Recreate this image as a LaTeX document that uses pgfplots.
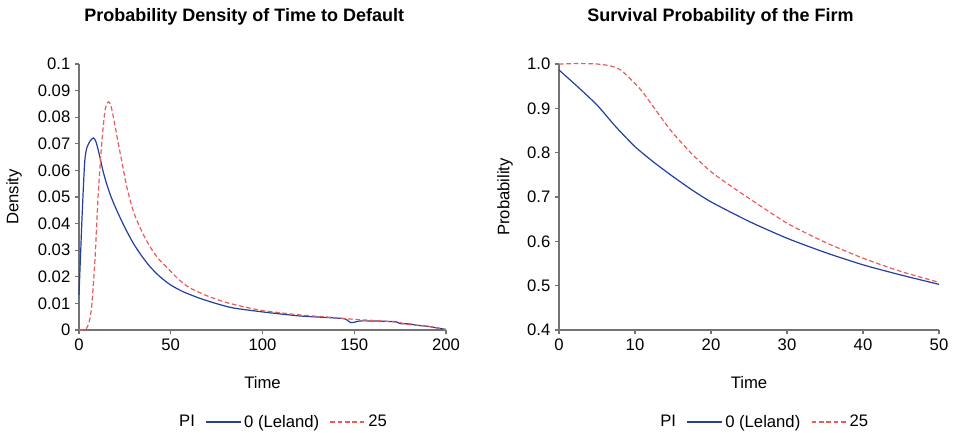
\documentclass[border=0pt]{standalone}
\usepackage{pgfplots}
\pgfplotsset{compat=1.18}
\usepackage{fontspec}
\setmainfont{Liberation Sans}

\definecolor{lelandblue}{RGB}{36,62,160}
\definecolor{pired}{RGB}{232,92,92}

\pgfplotsset{
  excelstyle/.style={
    scale only axis,
    height=199.5pt,
    axis x line=bottom, axis y line=left,
    axis line style={-, draw=gray!90!black, line width=0.8pt},
    tick align=outside, major tick length=3pt,
    tick style={draw=gray!90!black, line width=0.8pt},
    tick label style={font=\fontsize{12.5}{14}\selectfont},
    label style={font=\fontsize{12.5}{14}\selectfont},
    /pgf/number format/assume math mode=true,
    title style={font=\fontsize{13.5}{16}\selectfont\bfseries, anchor=center},
    legend columns=-1,
    legend style={draw=none, fill=none, anchor=center,
      font=\fontsize{12.5}{14}\selectfont,
      /tikz/every even column/.append style={column sep=6pt}},
    legend image code/.code={\draw[#1, line width=0.9pt] (0pt,0pt) -- (26pt,0pt);},
    clip=false,
  },
  bl/.style={lelandblue, line width=0.9pt, smooth, tension=0.4},
  rd/.style={pired, line width=0.9pt, dash pattern=on 3.5pt off 2pt, smooth, tension=0.4},
}

\begin{document}
\begin{tikzpicture}
\useasboundingbox (-59.25pt,-76.5pt) rectangle (657pt,247.5pt);

% left: density
\begin{axis}[excelstyle,
  width=275.25pt,
  xmin=0, xmax=200, ymin=0, ymax=0.1,
  xtick={0,50,100,150,200},
  ytick={0,0.01,0.02,0.03,0.04,0.05,0.06,0.07,0.08,0.09,0.1},
  yticklabels={0,0.01,0.02,0.03,0.04,0.05,0.06,0.07,0.08,0.09,0.1},
  title={Probability Density of Time to Default},
  title style={at={(rel axis cs:0.45,1.147)}},
  xlabel={Time}, ylabel={Density},
  xlabel style={at={(rel axis cs:0.5,-0.199)}, anchor=center},
  ylabel style={at={(rel axis cs:-0.177,0.5)}, anchor=center, rotate=0},
  legend style={at={(rel axis cs:0.556,-0.346)}},
]
\addlegendimage{empty legend}\addlegendentry{PI}
\addplot[bl] coordinates {
(0,0.0132) (1.45,0.0388) (2.4,0.0539) (3.2,0.0640) (4.2,0.0683) (6,0.0710)
(7.8,0.0722) (9,0.0712) (10,0.0690) (11.4,0.0650) (13,0.0600) (15,0.0551)
(17.5,0.0500) (20.5,0.0451) (25,0.0385) (29.6,0.0326) (34,0.0280)
(38.7,0.0238) (44,0.0201) (50,0.0169) (57,0.0143) (65.9,0.0119)
(75,0.0099) (84,0.0083) (100,0.0068) (120,0.0053) (135,0.0047)
(144,0.0043) (146,0.0038) (148,0.0028) (150,0.0029) (153,0.0034)
(160,0.0034) (170,0.0032) (173,0.0031) (175,0.0024) (180,0.0023)
(184,0.0018) (190,0.0014) (195,0.0008) (200,0.0002)
};
\addlegendentry{0 (Leland)}
\addplot[rd] coordinates {
(0,0) (2,0) (4,0.0005) (5.5,0.0030) (6.9,0.0088) (8.7,0.0263)
(10.5,0.0514) (12.4,0.0702) (14.2,0.0827) (16,0.0858) (17.3,0.0845)
(18.7,0.0802) (21.4,0.0702) (24,0.0610) (26,0.0539) (29,0.0460)
(31.4,0.0414) (35,0.0360) (38.7,0.0313) (43,0.0270) (47.8,0.0236)
(54,0.0192) (60,0.0160) (70,0.0128) (80,0.0104) (90,0.0087)
(100,0.0073) (120,0.0057) (140,0.0046) (150,0.0040) (160,0.0036)
(171,0.0031) (176,0.0026) (180,0.0020) (190,0.0014) (200,0.0002)
};
\addlegendentry{25}
\end{axis}

% right: survival
\begin{axis}[excelstyle, xshift=360pt,
  width=285pt,
  xmin=0, xmax=50, ymin=0.4, ymax=1.0,
  xtick={0,10,20,30,40,50},
  ytick={0.4,0.5,0.6,0.7,0.8,0.9,1.0},
  yticklabels={0.4,0.5,0.6,0.7,0.8,0.9,1.0},
  title={Survival Probability of the Firm},
  title style={at={(rel axis cs:0.425,1.147)}},
  xlabel={Time}, ylabel={Probability},
  xlabel style={at={(rel axis cs:0.5,-0.199)}, anchor=center},
  ylabel style={at={(rel axis cs:-0.142,0.5)}, anchor=center, rotate=0},
  legend style={at={(rel axis cs:0.54,-0.346)}},
]
\addlegendimage{empty legend}\addlegendentry{PI}
\addplot[bl] coordinates {
(0,0.9865) (2.5,0.948) (5,0.9075) (7.5,0.858) (10,0.8135) (12.5,0.778)
(15,0.746) (17.5,0.716) (20,0.689) (25,0.645) (30,0.607) (35,0.575)
(40,0.547) (45,0.524) (50,0.503)
};
\addlegendentry{0 (Leland)}
\addplot[rd] coordinates {
(0,1.0) (2.5,1.001) (5,1.000) (6.7,0.996) (8,0.988) (9,0.973) (10,0.956)
(11,0.937) (12.4,0.904) (13.7,0.873) (15,0.844) (17.5,0.797) (20,0.757)
(22.5,0.726) (25,0.697) (30,0.641) (35,0.598) (40,0.562) (45,0.532)
(50,0.5075)
};
\addlegendentry{25}
\end{axis}
\end{tikzpicture}
\end{document}
